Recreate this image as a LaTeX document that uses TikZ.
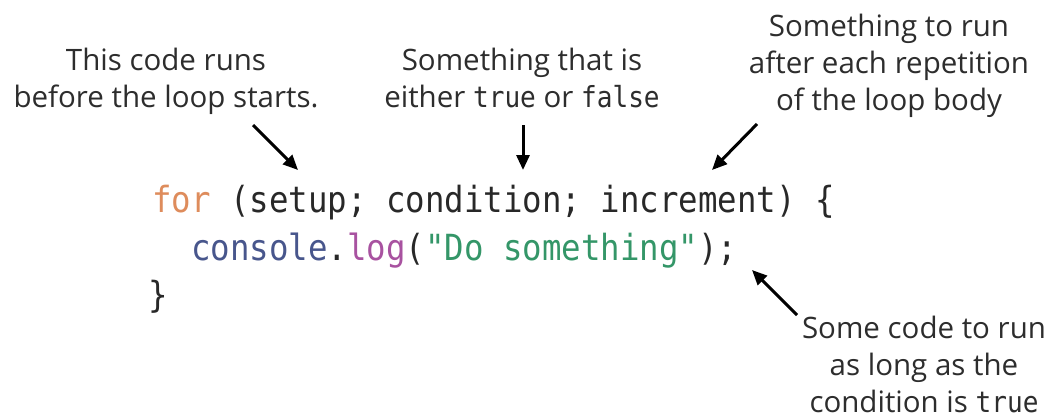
\documentclass[tikz,border=0pt]{standalone}
\usepackage{fontspec}
\setmainfont{Open Sans}
\newfontfamily\codefont[FakeStretch=0.9]{DejaVu Sans Mono}
\usepackage{tikz}
\usetikzlibrary{arrows.meta,positioning}
\definecolor{notegray}{RGB}{45,45,45}
\definecolor{codegray}{RGB}{40,40,40}
\definecolor{forcol}{RGB}{222,140,92}
\definecolor{objcol}{RGB}{72,86,140}
\definecolor{logcol}{RGB}{168,82,160}
\definecolor{strcol}{RGB}{52,150,104}
\newcommand{\kw}[1]{{\codefont\fontsize{29}{37}\selectfont #1}}

\begin{document}
\begin{tikzpicture}[x=1pt,y=-1pt,
  note/.style={align=center,anchor=base,inner sep=0pt,text=notegray,font=\fontsize{29.5}{37}\selectfont},
  codeline/.style={anchor=base west,inner sep=0pt,text=codegray,font=\codefont\fontsize{36}{44}\selectfont},
  pointer/.style={-{Triangle[length=15pt,width=13pt]},line width=3pt,black}]
\useasboundingbox (0,0) rectangle (1056,418);
% the loop
\node[codeline] (head) at (152,212) {\textcolor{forcol}{for} (setup; condition; increment) \{};
\node[codeline] (body) at (152,260) {\ \ \textcolor{objcol}{console}.\textcolor{logcol}{log}(\textcolor{strcol}{"Do something"});};
\node[codeline] (close) at (148,307) {\}};
% the notes (base = last line)
\node[note] (setupnote) at (166,107) {This code runs\\before the loop starts.};
\node[note] (condnote) at (522,107) {Something that is\\either \kw{true} or \kw{false}};
\node[note] (incrnote) at (889,110) {Something to run\\after each repetition\\of the loop body};
\node[note] (bodynote) at (924,412) {Some code to run\\as long as the\\condition is \kw{true}};
% arrows
\coordinate (setupfrom) at (253,125);
\coordinate (setupto) at (298,170);
\coordinate (condfrom) at (523,125);
\coordinate (condto) at (523,170);
\coordinate (incrfrom) at (757,124);
\coordinate (incrto) at (712,170);
\coordinate (bodyfrom) at (797,315);
\coordinate (bodyto) at (752,270);
\draw[pointer] (setupfrom) -- (setupto);
\draw[pointer] (condfrom) -- (condto);
\draw[pointer] (incrfrom) -- (incrto);
\draw[pointer] (bodyfrom) -- (bodyto);
\end{tikzpicture}
\end{document}
